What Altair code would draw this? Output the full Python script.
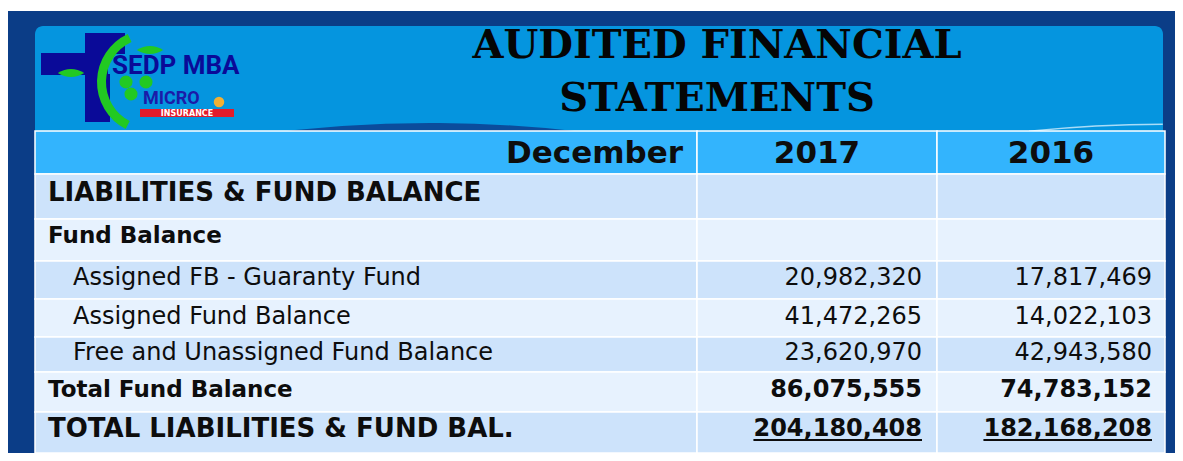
import altair as alt
import pandas as pd

# ---------------- data ----------------
row_labels = [
    "LIABILITIES & FUND BALANCE",
    "Fund Balance",
    "Assigned FB - Guaranty Fund",
    "Assigned Fund Balance",
    "Free and Unassigned Fund Balance",
    "Total Fund Balance",
    "TOTAL LIABILITIES & FUND BAL.",
]
row_kind = ["section", "group", "item", "item", "item", "subtotal", "total"]
values_2017 = [None, None, 20982320, 41472265, 23620970, 86075555, 204180408]
values_2016 = [None, None, 17817469, 14022103, 42943580, 74783152, 182168208]
header_labels = ["December", "2017", "2016"]
title_lines = ["AUDITED FINANCIAL", "STATEMENTS"]
logo_name = "SEDP MBA"
logo_sub = ["MICRO", "INSURANCE"]

# ---------------- layout (page pixels of the 1183x461 picture) ----------------
W, H = 1167, 445          # drawing area; the page adds an 8px margin
X0, Y0 = 8, 8
xs = alt.Scale(domain=[X0, X0 + W], range=[0, W], nice=False, zero=False)
ys = alt.Scale(domain=[Y0, Y0 + H], range=[0, H], nice=False, zero=False)

col_edges = [35, 697, 937, 1165]
header_top, header_bottom = 131, 174
row_edges = [174, 219, 261, 299, 337, 372, 412, 461]
text_y = [193, 236, 278, 317, 353, 390, 429]

NAVY = "#0b3d87"
PANEL = "#0595df"
HEADER = "#33b4fd"
ROW_DARK = "#cde3fb"
ROW_LIGHT = "#e7f2fe"
LOGO_BLUE = "#0a0a98"
GREEN = "#22c922"
TXT = "#0d0d0d"


def X(f):
    return alt.X(f, type="quantitative", scale=xs, axis=None)


def Y(f):
    return alt.Y(f, type="quantitative", scale=ys, axis=None)


def rect_layer(df, **mark):
    return alt.Chart(df).mark_rect(**mark).encode(
        x=X("x"), x2="x2", y=Y("y"), y2="y2",
        color=alt.Color("c:N", scale=None),
    )


def text_layer(df, size, weight="normal", align="left", baseline="middle",
               font="DejaVu Sans", color=TXT):
    return alt.Chart(df).mark_text(
        fontSize=size, fontWeight=weight, align=align, baseline=baseline,
        font=font, color=color,
    ).encode(x=X("x"), y=Y("y"), text="t:N")


# background
bg = rect_layer(pd.DataFrame([
    dict(x=X0, x2=X0 + W, y=11, y2=Y0 + H, c=NAVY),
]))
panel = rect_layer(pd.DataFrame([
    dict(x=35, x2=1163, y=26, y2=132, c=PANEL),
]), cornerRadiusTopLeft=8, cornerRadiusTopRight=8)

# bottom swoosh of the panel (very flat arc bands)
swoosh = alt.Chart(pd.DataFrame([dict(x=430, y=1400)])).mark_arc(
    innerRadius=1270, outerRadius=1277, theta=6.02, theta2=6.56,
    color="#0b4c9c",
).encode(x=X("x"), y=Y("y"))
swoosh_light = alt.Chart(pd.DataFrame([dict(x=1163, y=1400)])).mark_arc(
    innerRadius=1275, outerRadius=1276.5, theta=6.178, theta2=6.283,
    color="#a9dcf7",
).encode(x=X("x"), y=Y("y"))

# table cells
cells = []
for c in range(3):
    cells.append(dict(x=col_edges[c], x2=col_edges[c + 1], y=header_top,
                      y2=header_bottom, c=HEADER))
for r in range(len(row_labels)):
    colr = ROW_DARK if r % 2 == 0 else ROW_LIGHT
    for c in range(3):
        cells.append(dict(x=col_edges[c], x2=col_edges[c + 1], y=row_edges[r],
                          y2=min(row_edges[r + 1], Y0 + H), c=colr))
cell_layer = rect_layer(pd.DataFrame(cells), stroke="white", strokeWidth=1.5)

# header text
HDR_FS = 31
hdr_dec = text_layer(pd.DataFrame([dict(x=683, y=154, t=header_labels[0])]),
                     HDR_FS, "bold", "right")
hdr_years = text_layer(pd.DataFrame([
    dict(x=(col_edges[1] + col_edges[2]) / 2, y=154, t=header_labels[1]),
    dict(x=(col_edges[2] + col_edges[3]) / 2, y=154, t=header_labels[2]),
]), HDR_FS, "bold", "center")

# row labels grouped by style
style = {
    "section": (48, 26, "bold"),
    "group": (48, 23, "bold"),
    "item": (73, 24, "normal"),
    "subtotal": (48, 23, "bold"),
    "total": (48, 26, "bold"),
}
label_layers = []
for kind in ["section", "group", "item", "subtotal", "total"]:
    xk, fs, fw = style[kind]
    rows = [dict(x=xk, y=text_y[i], t=row_labels[i])
            for i in range(len(row_labels)) if row_kind[i] == kind]
    label_layers.append(text_layer(pd.DataFrame(rows), fs, fw, "left"))

# numbers
num_right = [922, 1152]
num_rows_regular, num_rows_bold = [], []
for i in range(len(row_labels)):
    for j, vals in enumerate([values_2017, values_2016]):
        v = vals[i]
        if v is None:
            continue
        d = dict(x=num_right[j], y=text_y[i], t=f"{v:,}")
        if row_kind[i] in ("subtotal", "total"):
            num_rows_bold.append(d)
        else:
            num_rows_regular.append(d)
NUM_FS = 24
num_reg = text_layer(pd.DataFrame(num_rows_regular), NUM_FS, "normal", "right")
num_bold = text_layer(pd.DataFrame(num_rows_bold), NUM_FS, "bold", "right")

# underline of the grand totals (width from DejaVu Sans Bold advance widths)
ul = []
i_tot = row_kind.index("total")
for j, vals in enumerate([values_2017, values_2016]):
    s = f"{vals[i_tot]:,}"
    wpx = (sum(c.isdigit() for c in s) * 0.696 + s.count(",") * 0.38) * NUM_FS
    ul.append(dict(x=num_right[j] - wpx, x2=num_right[j], y=text_y[i_tot] + 10,
                   y2=text_y[i_tot] + 12, c=TXT))
underline = rect_layer(pd.DataFrame(ul))

# title
title = text_layer(pd.DataFrame([
    dict(x=717, y=58, t=title_lines[0]),
    dict(x=717, y=111, t=title_lines[1]),
]), 40, "bold", "center", "alphabetic", font="DejaVu Serif", color="#050505")

# ---------------- logo ----------------
cross = rect_layer(pd.DataFrame([
    dict(x=85, x2=125, y=33, y2=54, c=LOGO_BLUE),
    dict(x=41, x2=108, y=53, y2=75, c=LOGO_BLUE),
    dict(x=85, x2=110, y=74, y2=122, c=LOGO_BLUE),
]))
vine = alt.Chart(pd.DataFrame([dict(x=150, y=82)])).mark_arc(
    innerRadius=44, outerRadius=53, theta=3.62, theta2=5.85, color=GREEN
).encode(x=X("x"), y=Y("y"))
leaf_path = "M -1 0 Q 0 -0.6 1 0 Q 0 0.6 -1 0 Z"
leaves = alt.Chart(pd.DataFrame([
    dict(x=71, y=73), dict(x=150, y=50),
])).mark_point(shape=leaf_path, filled=True, size=700, color=GREEN, opacity=1
               ).encode(x=X("x"), y=Y("y"))
blobs = alt.Chart(pd.DataFrame([
    dict(x=126, y=82), dict(x=146, y=82), dict(x=131, y=94),
])).mark_point(shape="circle", filled=True, size=170, color=GREEN, opacity=1
               ).encode(x=X("x"), y=Y("y"))
name_txt = text_layer(pd.DataFrame([dict(x=112, y=66, t=logo_name)]),
                      26, "bold", "left", font="Roboto", color=LOGO_BLUE)
micro_txt = text_layer(pd.DataFrame([dict(x=143, y=99, t=logo_sub[0])]),
                       18, "bold", "left", font="Roboto", color="#1b1ba8")
red_band = rect_layer(pd.DataFrame([dict(x=140, x2=234, y=109, y2=117, c="#e11b2b")]))
ins_txt = text_layer(pd.DataFrame([dict(x=187, y=113.5, t=logo_sub[1])]),
                     8, "bold", "center", font="DejaVu Sans", color="white")
face = alt.Chart(pd.DataFrame([dict(x=219, y=102)])).mark_point(
    shape="circle", filled=True, size=110, color="#f2b035", opacity=1
).encode(x=X("x"), y=Y("y"))

chart = alt.layer(
    bg, panel, swoosh, swoosh_light, cell_layer, hdr_dec, hdr_years, *label_layers,
    num_reg, num_bold, underline, title,
    cross, vine, leaves, blobs, name_txt, micro_txt, red_band, ins_txt, face,
).properties(
    width=W, height=H, padding=0, autosize=alt.AutoSizeParams(type="none"),
    background="white",
).configure_view(strokeWidth=0)

chart.save("out.html", embed_options={"renderer": "svg", "actions": False})
